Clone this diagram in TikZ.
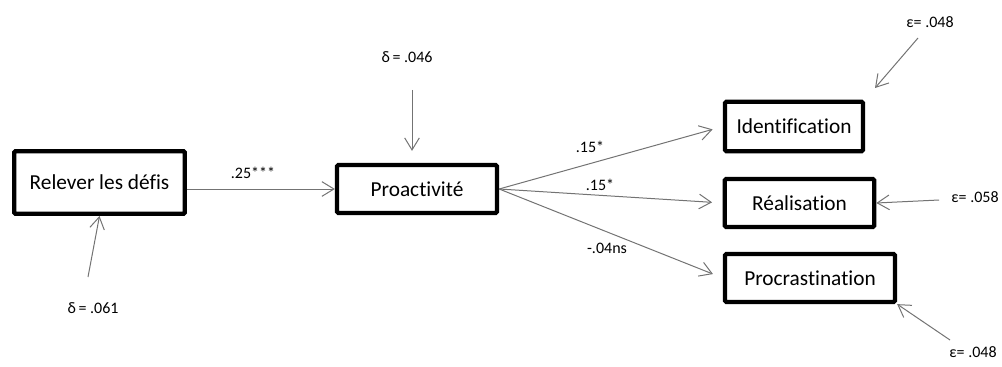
\documentclass[tikz,border=0pt]{standalone}
\usepackage{fontspec}
\setmainfont[Ligatures=NoCommon]{Carlito}
\usetikzlibrary{arrows.meta}

\begin{document}
\begin{tikzpicture}[x=0.75pt, y=-0.75pt,
        var/.style={draw, line width=3.2pt, rounded corners=1pt, minimum height=36pt, inner sep=0pt, font=\fontsize{16}{19}\selectfont},
        link/.style={draw=black!55, line width=0.75pt, -{Straight Barb[length=9pt, width=11pt]}},
        coef/.style={font=\fontsize{12}{14}\selectfont}]
        \useasboundingbox (0,0) rectangle (1002,367);

        % Variables
        \node[var, minimum width=128pt, minimum height=47pt] (defis) at (99.5,182.5) {Relever les défis};
        \node[var, minimum width=120pt] (proact) at (417,189) {Proactivité};
        \node[var, minimum width=103.5pt, minimum height=37pt] (ident) at (794,126.5) {Identification};
        \node[var, minimum width=112pt] (real) at (799.5,203) {Réalisation};
        \node[var, minimum width=127.5pt] (procr) at (810,278) {Procrastination};

        % Erreurs
        \node[coef] (d1) at (93,308) {δ\,= .061};
        \node[coef] (d2) at (407,57) {δ\,= .046};
        \node[coef] (e1) at (930,22) {ε= .048};
        \node[coef] (e2) at (975,197) {ε= .058};
        \node[coef] (e3) at (973,352) {ε= .048};
        \coordinate (d1s) at (88,277);
        \coordinate (d2s) at (412,90);
        \coordinate (e1s) at (918,38);
        \coordinate (e2s) at (939,200);
        \coordinate (e3s) at (950,340);

        \draw[link] (d1s) -- (defis.south);
        \draw[link, shorten >=9pt] (d2s) -- (d2s |- proact.north);
        \draw[link] (e1s) -- (875,88);
        \draw[link] (e2s) -- (real.east);
        \draw[link] (e3s) -- (procr.south east);

        % Chemins
        \draw[link] (defis.east |- proact.west) -- (proact.west);
        \draw[link, shorten >=8pt] (proact.east) -- (ident.west);
        \draw[link, shorten >=8pt] (proact.east) -- (real.west);
        \draw[link, shorten >=8pt] (proact.east) -- (procr.west);

        % Coefficients
        \node[coef] (c1) at (253,173) {.25***};
        \node[coef] (c2) at (590,147) {.15*};
        \node[coef] (c3) at (600,185) {.15*};
        \node[coef] (c4) at (607,248) {-.04ns};

    \end{tikzpicture}
\end{document}
